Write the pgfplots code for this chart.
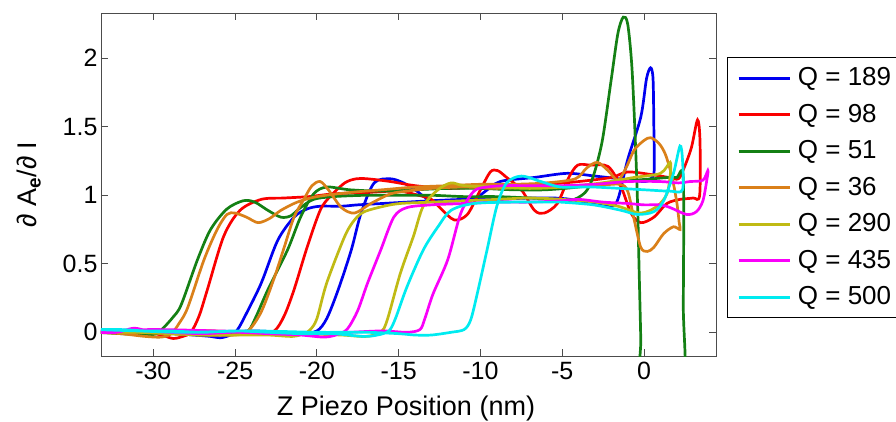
\documentclass[border=0pt]{standalone}
\usepackage{pgfplots}
\pgfplotsset{compat=1.18}
\usepackage{fontspec}
\setmainfont{Liberation Sans}
\definecolor{qblue}{RGB}{0,0,240}
\definecolor{qred}{RGB}{250,0,0}
\definecolor{qgreen}{RGB}{20,128,20}
\definecolor{qorange}{RGB}{218,128,25}
\definecolor{qolive}{RGB}{192,186,20}
\definecolor{qmag}{RGB}{250,0,250}
\definecolor{qcyan}{RGB}{0,235,240}
\begin{document}
\begin{tikzpicture}
\useasboundingbox (-101pt,-65pt) rectangle (795pt,356pt);
\begin{axis}[
  at={(0pt,0pt)}, anchor=south west,
  scale only axis, width=615pt, height=343pt,
  xmin=-33.2, xmax=4.4, ymin=-0.173, ymax=2.33,
  xtick={-30,-25,-20,-15,-10,-5,0}, xticklabels={-30,-25,-20,-15,-10,-5,0},
  ytick={0,0.5,1,1.5,2}, yticklabels={0,0.5,1,1.5,2},
  tick align=inside, major tick length=7pt,
  axis line style={black!70, line width=0.9pt},
  every tick/.style={black!70, line width=0.9pt},
  tick label style={font=\fontsize{25}{30}\selectfont, black},
  xticklabel style={yshift=-3pt},
  xlabel={Z Piezo Position (nm)},
  xlabel style={font=\fontsize{27}{32}\selectfont, at={(axis description cs:0.5,0)}, anchor=base, yshift=-59pt, xshift=-2.5pt},
  ylabel={∂ A\textsubscript{\bfseries e}/∂ I},
  ylabel style={font=\fontsize{27}{32}\selectfont, at={(axis description cs:-0.1041,0.5)}, anchor=base},
  legend style={name=leg, at={(1.0179,0.8703)}, anchor=north west, draw=none,
    font=\fontsize{26}{31}\selectfont, inner xsep=10pt, inner ysep=9pt, row sep=13.5pt, column sep=7pt,
    nodes={inner sep=0pt, text height=19pt, text depth=4pt}, cells={anchor=west}},
  legend image code/.code={\draw[#1] (0pt,0pt) -- (51pt,0pt);},
  every axis plot/.append style={line width=2.7pt, smooth, tension=0.5},
]
% Q = 189
\addplot[qblue] coordinates {
(-33.5,0.01) (-32.5,0.0) (-31.5,-0.01) (-30.5,0.0) (-29.5,0.01) (-28.5,-0.01) (-27.5,-0.02) (-26.5,-0.03) (-25.9,-0.04) (-25.3,-0.02) (-24.85,0.02) (-24.3,0.14) (-23.4,0.36) (-22.4,0.67) (-21.4,0.84) (-20.6,0.90) (-19.8,0.92) (-18.5,0.92) (-17.5,0.93) (-16,0.94) (-14.5,0.95) (-13,0.96) (-11,0.97) (-9,0.97) (-7,0.98) (-5.5,0.98) (-4.5,0.97) (-3.3,0.94) (-2.1,0.92) (-1.6,0.97) (-1.0,1.26) (-0.2,1.57) (0.15,1.85) (0.4,1.93) (0.55,1.85) (0.6,1.5) (0.62,1.18) (0.4,1.12) (0,1.1) (-1.5,1.12) (-3,1.14) (-4.7,1.16) (-6.7,1.13) (-8.8,1.10) (-9.8,1.02) (-10.5,0.97) (-12.9,0.96) (-14.0,1.04) (-14.7,1.09) (-15.5,1.12) (-16.5,1.09) (-17.3,0.87) (-17.9,0.60) (-18.7,0.31) (-19.4,0.10) (-20,0.01) (-21,-0.01) (-22,0.0) (-24,0.01) (-26,0.0) (-28,0.01) (-30,0.0) (-33.5,0.0)
};
\addlegendentry{Q = 189}
% Q = 98
\addplot[qred] coordinates {
(-33.5,0.0) (-32,0.01) (-30.5,0.0) (-29.5,-0.02) (-28.8,-0.045) (-28.2,-0.03) (-27.7,0.0) (-27.2,0.12) (-26.7,0.31) (-25.7,0.70) (-24.7,0.89) (-23.4,0.97) (-22,0.98) (-20.5,0.99) (-19,1.01) (-17,1.02) (-15,1.03) (-13.8,1.0) (-13.0,0.97) (-12.4,0.90) (-11.6,0.82) (-10.8,0.86) (-10.0,1.04) (-9.4,1.17) (-8.95,1.18) (-8.4,1.13) (-7.5,1.04) (-6.7,0.89) (-6.1,0.87) (-5.3,0.94) (-4.6,1.13) (-4.05,1.22) (-3.3,1.22) (-2.2,1.21) (-1.4,1.06) (-0.8,0.87) (-0.2,0.80) (0.6,0.84) (1.4,0.94) (2.2,0.97) (3.0,0.98) (3.4,1.0) (3.42,1.4) (3.27,1.55) (2.9,1.35) (2.45,1.2) (2.1,1.12) (1.5,1.13) (0.5,1.15) (-1.0,1.17) (-2,1.13) (-4,1.1) (-6,1.08) (-8,1.07) (-10,1.06) (-12,1.05) (-14,1.07) (-15.5,1.10) (-16.9,1.12) (-17.6,1.12) (-18.3,1.09) (-19.2,0.99) (-19.8,0.89) (-20.6,0.62) (-21.4,0.31) (-22.0,0.12) (-22.6,0.01) (-23.5,-0.01) (-25,0.0) (-27,0.01) (-30,0.0) (-33.5,0.0)
};
\addlegendentry{Q = 98}
% Q = 51
\addplot[qgreen] coordinates {
(-33.5,0.0) (-32,-0.01) (-30.5,-0.02) (-29.8,-0.01) (-29.4,0.03) (-28.8,0.11) (-28.3,0.20) (-27.3,0.53) (-26.5,0.75) (-25.5,0.90) (-24.5,0.96) (-23.8,0.95) (-23,0.89) (-22.2,0.84) (-21.6,0.85) (-21,0.91) (-20.2,0.97) (-19,0.99) (-17,1.0) (-15,1.0) (-13,1.0) (-11,0.99) (-9,0.99) (-7,0.98) (-5.5,0.97) (-4.5,0.96) (-3.6,1.02) (-3.1,1.14) (-2.55,1.40) (-2.0,1.85) (-1.6,2.18) (-1.27,2.30) (-1.0,2.25) (-0.75,1.95) (-0.55,1.45) (-0.4,0.95) (-0.3,0.45) (-0.2,-0.05) (-0.15,-0.4) (2.35,-0.4) (2.4,0.2) (2.4,1.12) (2.0,1.13) (1.5,1.13) (0.5,1.12) (-0.5,1.11) (-2,1.09) (-4,1.06) (-6,1.04) (-8,1.04) (-10,1.05) (-12,1.05) (-14,1.04) (-16,1.03) (-18,1.04) (-19.4,1.06) (-20.2,1.01) (-21.0,0.84) (-21.8,0.60) (-23.0,0.31) (-23.7,0.12) (-24.2,0.01) (-25,-0.01) (-27,-0.02) (-29,-0.01) (-31,0.0) (-33.5,0.0)
};
\addlegendentry{Q = 51}
% Q = 36
\addplot[qorange] coordinates {
(-33.5,0.0) (-32,-0.01) (-30.5,-0.03) (-29.5,-0.035) (-28.9,-0.01) (-28.4,0.07) (-27.9,0.18) (-26.9,0.53) (-26.1,0.75) (-25.5,0.86) (-25.0,0.87) (-24.3,0.84) (-23.6,0.80) (-22.9,0.83) (-22.2,0.89) (-21.2,0.95) (-20,0.99) (-18,1.02) (-16,1.04) (-14,1.06) (-12,1.07) (-10,1.08) (-8,1.08) (-6,1.09) (-4.2,1.12) (-3.5,1.2) (-2.85,1.24) (-2.2,1.18) (-1.6,1.11) (-1.1,1.2) (-0.6,1.33) (0.0,1.40) (0.4,1.42) (0.9,1.38) (1.3,1.30) (1.7,1.14) (2.0,0.95) (2.15,0.80) (2.2,0.75) (1.8,0.77) (1.2,0.72) (0.6,0.62) (0.2,0.59) (-0.2,0.62) (-0.6,0.82) (-1.0,1.03) (-1.5,1.08) (-3,1.07) (-5,1.06) (-7,1.06) (-9,1.05) (-11,1.06) (-13,1.05) (-14.5,1.03) (-15.5,1.01) (-16.7,0.94) (-17.7,0.87) (-18.5,0.91) (-19.3,1.04) (-19.8,1.10) (-20.3,1.07) (-20.8,0.97) (-21.4,0.84) (-22.0,0.62) (-22.6,0.40) (-23.4,0.15) (-24.2,0.01) (-25,-0.02) (-27,-0.02) (-29,-0.01) (-31,0.0) (-33.5,0.01)
};
\addlegendentry{Q = 36}
% Q = 290
\addplot[qolive] coordinates {
(-33.5,0.0) (-31,0.0) (-29,-0.01) (-27,-0.02) (-25,-0.02) (-23,-0.02) (-21.5,-0.03) (-20.8,-0.01) (-20.4,0.02) (-20.0,0.10) (-19.4,0.36) (-18.3,0.70) (-17.7,0.82) (-17.1,0.88) (-15.9,0.92) (-14.9,0.94) (-13,0.95) (-11,0.96) (-9,0.97) (-7,0.98) (-5,0.97) (-3,0.95) (-1.6,0.92) (-0.2,0.87) (0.8,0.92) (1.4,1.01) (1.6,1.15) (1.6,1.24) (1.0,1.16) (-0.6,1.13) (-2.6,1.09) (-5,1.06) (-7,1.05) (-9,1.06) (-11,1.07) (-11.8,1.09) (-12.6,1.04) (-13.5,0.92) (-14.1,0.70) (-14.9,0.43) (-15.7,0.09) (-16.1,0.0) (-17,-0.03) (-18.5,-0.02) (-21,-0.01) (-24,0.0) (-27,0.01) (-30,0.0) (-33.5,0.0)
};
\addlegendentry{Q = 290}
% Q = 435
\addplot[qmag] coordinates {
(-33.5,0.0) (-32.2,0.0) (-31.2,0.03) (-30.3,0.01) (-29,0.0) (-27,-0.01) (-25,0.0) (-23,-0.01) (-21,-0.02) (-19.5,-0.035) (-18.6,-0.01) (-18.1,0.03) (-17.5,0.16) (-16.9,0.36) (-16.1,0.60) (-15.3,0.84) (-14.5,0.91) (-13,0.93) (-11,0.94) (-9,0.95) (-7,0.95) (-5,0.96) (-4,0.97) (-2.5,0.95) (-1.0,0.94) (0,0.93) (1.0,0.93) (1.6,0.91) (2.6,0.86) (3.2,0.88) (3.6,0.96) (3.85,1.12) (3.9,1.18) (3.6,1.11) (2.8,1.10) (2.1,1.09) (1,1.10) (-1.0,1.10) (-3,1.08) (-5,1.07) (-7,1.07) (-8.5,1.07) (-9.6,1.06) (-10.4,1.03) (-11.2,0.87) (-12.0,0.53) (-12.9,0.28) (-13.4,0.10) (-13.7,0.02) (-14.5,0.0) (-16,0.01) (-18,0.0) (-20,-0.01) (-23,0.0) (-26,0.01) (-30,0.02) (-33.5,0.01)
};
\addlegendentry{Q = 435}
% Q = 500
\addplot[qcyan] coordinates {
(-33.5,0.02) (-32,0.02) (-30.5,0.01) (-29,0.01) (-27,0.0) (-25,0.01) (-23,0.0) (-21,-0.01) (-19,-0.01) (-17.2,-0.03) (-16.3,-0.02) (-15.6,0.01) (-15.2,0.1) (-14.5,0.33) (-13.5,0.60) (-12.6,0.77) (-11.8,0.89) (-10.4,0.94) (-8,0.95) (-6,0.95) (-5.1,0.95) (-3.1,0.93) (-1.4,0.89) (-0.4,0.86) (0.6,0.88) (1.2,0.96) (1.8,1.16) (2.2,1.36) (2.35,1.26) (2.35,1.04) (1.6,1.03) (0,1.04) (-3.1,1.06) (-5.1,1.06) (-6.3,1.10) (-7.5,1.14) (-8.4,1.09) (-9.0,0.92) (-9.6,0.60) (-10.2,0.28) (-10.6,0.09) (-11.0,0.02) (-11.8,0.0) (-13,-0.02) (-14,-0.02) (-15,-0.01) (-17,0.0) (-20,0.0) (-24,0.01) (-28,0.0) (-31,0.01) (-33.5,0.02)
};
\addlegendentry{Q = 500}
\end{axis}
\draw[black, line width=0.9pt] (leg.north west) -- (leg.south west);
\draw[black, line width=0.9pt] (leg.north west) -- ++(300pt,0pt);
\draw[black, line width=0.9pt] (leg.south west) -- ++(300pt,0pt);
\end{tikzpicture}
\end{document}
